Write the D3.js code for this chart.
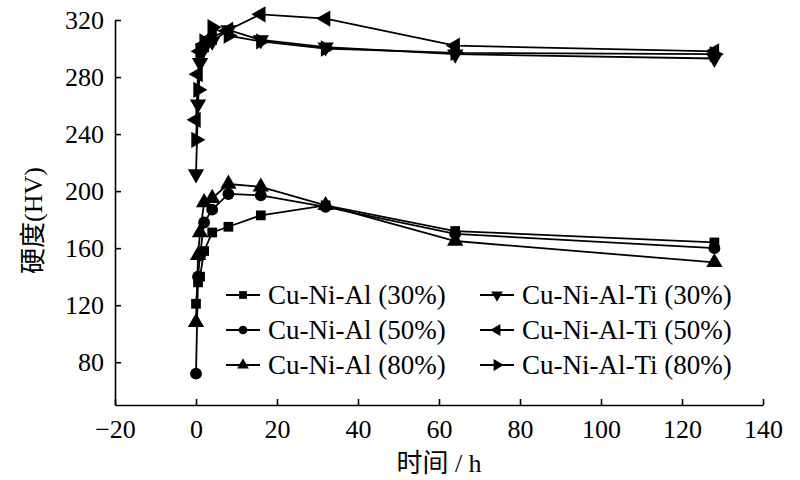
<!DOCTYPE html>
<html lang="zh">
<head>
  <meta charset="UTF-8">
  <title>硬度</title>
  <script src="https://d3js.org/d3.v7.min.js"></script>
  <style>
    body { margin: 0; background: #fff; }
    .axis path, .axis line { stroke: #000; stroke-width: 1.6px; }
  </style>
</head>
<body>
  <svg width="800" height="480"></svg>
  <script>
    // time in hours
    const hours = [0, 0.5, 1, 2, 4, 8, 16, 32, 64, 128];

    const cuNiAl30   = [121, 136, 140, 158, 171, 175, 183, 190, 172, 164];
    const cuNiAl50   = [72, 140, 155, 178, 187, 198, 197, 189, 170, 160];
    const cuNiAl80   = [108, 155, 171, 192, 195, 205, 203, 190, 165, 150];
    const cuNiAlTi30 = [212, 261, 290, 300, 305, 313, 306, 301, 296, 293];
    const cuNiAlTi50 = [250, 282, 298, 303, 308, 313, 324, 321, 302, 298];
    const cuNiAlTi80 = [236, 271, 298, 305, 315, 309, 305, 300, 297, 296];

    const seriesNames = [
      "Cu-Ni-Al (30%)", "Cu-Ni-Al (50%)", "Cu-Ni-Al (80%)",
      "Cu-Ni-Al-Ti (30%)", "Cu-Ni-Al-Ti (50%)", "Cu-Ni-Al-Ti (80%)"
    ];
    const seriesValues = [cuNiAl30, cuNiAl50, cuNiAl80, cuNiAlTi30, cuNiAlTi50, cuNiAlTi80];

    const xTicks = [-20, 0, 20, 40, 60, 80, 100, 120, 140];
    const yTicks = [80, 120, 160, 200, 240, 280, 320];

    // marker shape + rotation per series
    const markers = [
      { type: d3.symbolSquare, rot: 0 },
      { type: d3.symbolCircle, rot: 0 },
      { type: d3.symbolTriangle, rot: 0 },
      { type: d3.symbolTriangle, rot: 180 },
      { type: d3.symbolTriangle, rot: -90 },
      { type: d3.symbolTriangle, rot: 90 }
    ];
    const markerSize = [95, 110, 115, 115, 115, 115];

    const serif = "Liberation Serif, DejaVu Serif, Noto Sans CJK SC, serif";

    const plotL = 115, plotR = 763, plotT = 20, plotB = 405;
    const x = d3.scaleLinear().domain([-20, 140]).range([plotL, plotR]);
    const y = d3.scaleLinear().domain([50, 320]).range([plotB, plotT]);

    const svg = d3.select("svg").attr("font-family", serif);

    // axes, ticks pointing inward
    svg.append("g")
      .attr("class", "axis")
      .attr("transform", `translate(0,${plotB})`)
      .call(d3.axisBottom(x).tickValues(xTicks).tickSizeInner(-6).tickSizeOuter(0).tickPadding(13))
      .attr("font-family", serif)
      .attr("font-size", 26)
      .call(g => g.selectAll(".tick text").attr("dy", "0.75em").attr("fill", "#000"));

    svg.append("g")
      .attr("class", "axis")
      .attr("transform", `translate(${plotL},0)`)
      .call(d3.axisLeft(y).tickValues(yTicks).tickSizeInner(-6).tickSizeOuter(0).tickPadding(11))
      .attr("font-family", serif)
      .attr("font-size", 26)
      .call(g => g.selectAll(".tick text").attr("fill", "#000"));

    const line = d3.line()
      .x((d, i) => x(hours[i]))
      .y(d => y(d));

    const sym = (k, size) => d3.symbol().type(markers[k].type).size(size)();

    seriesValues.forEach((vals, k) => {
      const g = svg.append("g");
      g.append("path")
        .attr("d", line(vals))
        .attr("fill", "none")
        .attr("stroke", "#000")
        .attr("stroke-width", 1.8);
      g.selectAll("path.pt")
        .data(vals)
        .join("path")
        .attr("class", "pt")
        .attr("d", sym(k, markerSize[k]))
        .attr("transform", (d, i) => `translate(${x(hours[i])},${y(d)}) rotate(${markers[k].rot})`)
        .attr("fill", "#000");
    });

    // legend, two columns of three rows
    const legendCols = [226, 480];
    const legendRows = [295, 330, 365];
    seriesNames.forEach((name, k) => {
      const lx = legendCols[Math.floor(k / 3)];
      const ly = legendRows[k % 3];
      const g = svg.append("g").attr("transform", `translate(${lx},${ly})`);
      g.append("line")
        .attr("x1", 0).attr("x2", 34)
        .attr("stroke", "#000").attr("stroke-width", 1.8);
      g.append("path")
        .attr("d", sym(k, 60))
        .attr("transform", `translate(17,0) rotate(${markers[k].rot})`)
        .attr("fill", "#000");
      g.append("text")
        .attr("x", 42)
        .attr("dy", "0.35em")
        .attr("font-size", 27)
        .text(name);
    });

    // axis titles
    svg.append("text")
      .attr("transform", `translate(42,${(plotT + plotB) / 2 + 8}) rotate(-90)`)
      .attr("text-anchor", "middle")
      .attr("font-size", 26)
      .text("硬度(HV)");

    svg.append("text")
      .attr("x", (plotL + plotR) / 2)
      .attr("y", 472)
      .attr("text-anchor", "middle")
      .attr("font-size", 26)
      .text("时间 / h");
  </script>
</body>
</html>
